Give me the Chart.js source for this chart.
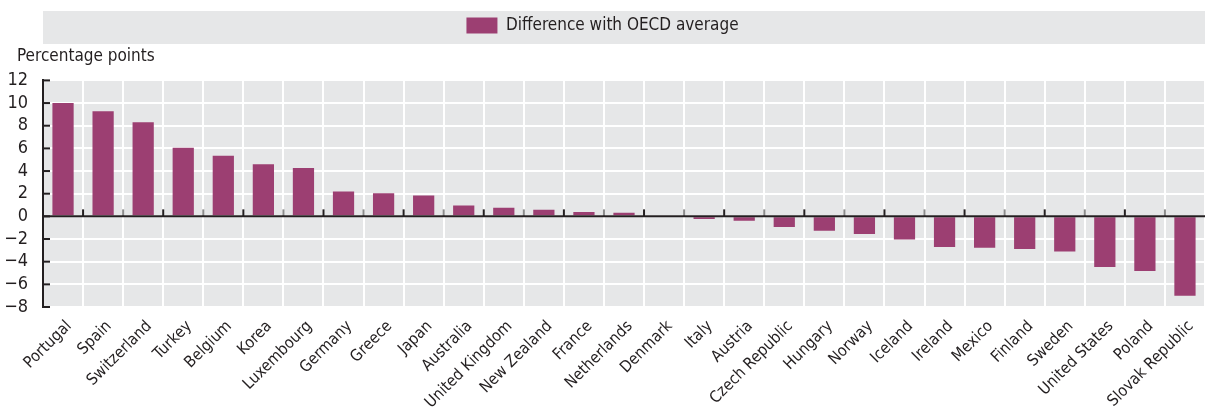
<!DOCTYPE html>
<html lang="en">
<head>
    <meta charset="UTF-8">
    <title>Difference with OECD average</title>
    <style>
        html, body { margin: 0; padding: 0; background: #fff; }
    </style>
</head>
<body>
    <canvas id="diffChart" width="1205" height="419"></canvas>
    <script src="https://cdn.jsdelivr.net/npm/chart.js"></script>
    <script>
        // chart data
        const countries = ['Portugal', 'Spain', 'Switzerland', 'Turkey', 'Belgium', 'Korea', 'Luxembourg',
            'Germany', 'Greece', 'Japan', 'Australia', 'United Kingdom', 'New Zealand', 'France',
            'Netherlands', 'Denmark', 'Italy', 'Austria', 'Czech Republic', 'Hungary', 'Norway',
            'Iceland', 'Ireland', 'Mexico', 'Finland', 'Sweden', 'United States', 'Poland', 'Slovak Republic'];
        const diffValues = [10.0, 9.27, 8.3, 6.05, 5.35, 4.6, 4.27,
            2.2, 2.05, 1.85, 0.96, 0.76, 0.58, 0.38,
            0.32, 0.0, -0.23, -0.38, -0.93, -1.26, -1.55,
            -2.05, -2.7, -2.78, -2.87, -3.1, -4.47, -4.82, -7.0];
        const yTickValues = [-8, -6, -4, -2, 0, 2, 4, 6, 8, 10, 12];
        const seriesName = 'Difference with OECD average';
        const unitLabel = 'Percentage points';

        const fontFamily = "'Liberation Sans Narrow', 'DejaVu Sans Condensed', 'Roboto', sans-serif";
        const textColor = '#231f20';
        const panelGrey = '#e6e7e8';

        // grey panels behind the plot and the legend
        const backgrounds = {
            id: 'backgrounds',
            afterLayout(chart) {
                // nudge the unit label in a bit from the left edge
                chart.titleBlock.left = 17;
            },
            beforeDraw(chart) {
                const { ctx, chartArea, legend } = chart;
                ctx.save();
                ctx.fillStyle = panelGrey;
                ctx.fillRect(chartArea.left, chartArea.top, chartArea.right - chartArea.left, chartArea.bottom - chartArea.top);
                ctx.fillRect(chartArea.left, legend.top, chart.width - chartArea.left, legend.bottom - legend.top);
                ctx.restore();
            }
        };

        // zero line, its little ticks, and inward ticks on the y axis
        const axisMarks = {
            id: 'axisMarks',
            afterDatasetsDraw(chart) {
                const { ctx, chartArea, scales: { x, y } } = chart;
                const y0 = y.getPixelForValue(0);
                ctx.save();
                ctx.lineWidth = 2;
                for (let i = 1; i < countries.length; i++) {
                    const bx = (x.getPixelForValue(i - 1) + x.getPixelForValue(i)) / 2;
                    ctx.strokeStyle = i % 2 ? textColor : '#8c8c8c';
                    ctx.beginPath();
                    ctx.moveTo(bx, y0);
                    ctx.lineTo(bx, y0 - 7);
                    ctx.stroke();
                }
                ctx.strokeStyle = textColor;
                ctx.beginPath();
                ctx.moveTo(chartArea.left, y0);
                ctx.lineTo(chartArea.right, y0);
                ctx.stroke();
                yTickValues.forEach(v => {
                    const py = y.getPixelForValue(v);
                    ctx.beginPath();
                    ctx.moveTo(chartArea.left, py);
                    ctx.lineTo(chartArea.left + 7, py);
                    ctx.stroke();
                });
                ctx.restore();
            }
        };

        const ctx = document.getElementById('diffChart').getContext('2d');
        new Chart(ctx, {
            type: 'bar',
            data: {
                labels: countries,
                datasets: [{
                    label: seriesName,
                    data: diffValues,
                    backgroundColor: '#9c3f72',
                    barPercentage: 0.53,
                    categoryPercentage: 1
                }]
            },
            options: {
                responsive: false,
                animation: false,
                devicePixelRatio: 1,
                layout: { padding: { top: 11, left: 0, right: 0, bottom: 0 } },
                plugins: {
                    legend: {
                        position: 'top',
                        weight: 3000,
                        labels: {
                            boxWidth: 31,
                            boxHeight: 16,
                            padding: 6,
                            color: textColor,
                            font: { size: 17, family: fontFamily }
                        }
                    },
                    title: {
                        display: true,
                        text: unitLabel,
                        align: 'start',
                        color: textColor,
                        font: { size: 17, family: fontFamily, weight: 'normal' },
                        padding: { top: 2, bottom: 14 }
                    },
                    tooltip: { enabled: false }
                },
                scales: {
                    x: {
                        grid: { color: '#ffffff', lineWidth: 2, drawTicks: false },
                        border: { display: false },
                        ticks: {
                            color: textColor,
                            font: { size: 16, family: fontFamily },
                            minRotation: 45,
                            maxRotation: 45,
                            autoSkip: false,
                            padding: 10,
                            labelOffset: 6
                        },
                        afterFit(scale) {
                            scale.height = 112;
                            scale.paddingLeft = 0;
                            scale.paddingRight = 0;
                        }
                    },
                    y: {
                        min: -8,
                        max: 12,
                        afterBuildTicks(scale) { scale.ticks = yTickValues.map(v => ({ value: v })); },
                        grid: { color: '#ffffff', lineWidth: 2, drawTicks: false },
                        border: { display: true, color: textColor, width: 2 },
                        ticks: {
                            color: textColor,
                            font: { size: 18, family: fontFamily },
                            padding: 15,
                            autoSkip: false,
                            callback: v => String(v).replace('-', '\u2212')
                        },
                        afterFit(scale) { scale.width = 43; }
                    }
                }
            },
            plugins: [backgrounds, axisMarks]
        });
    </script>
</body>
</html>
